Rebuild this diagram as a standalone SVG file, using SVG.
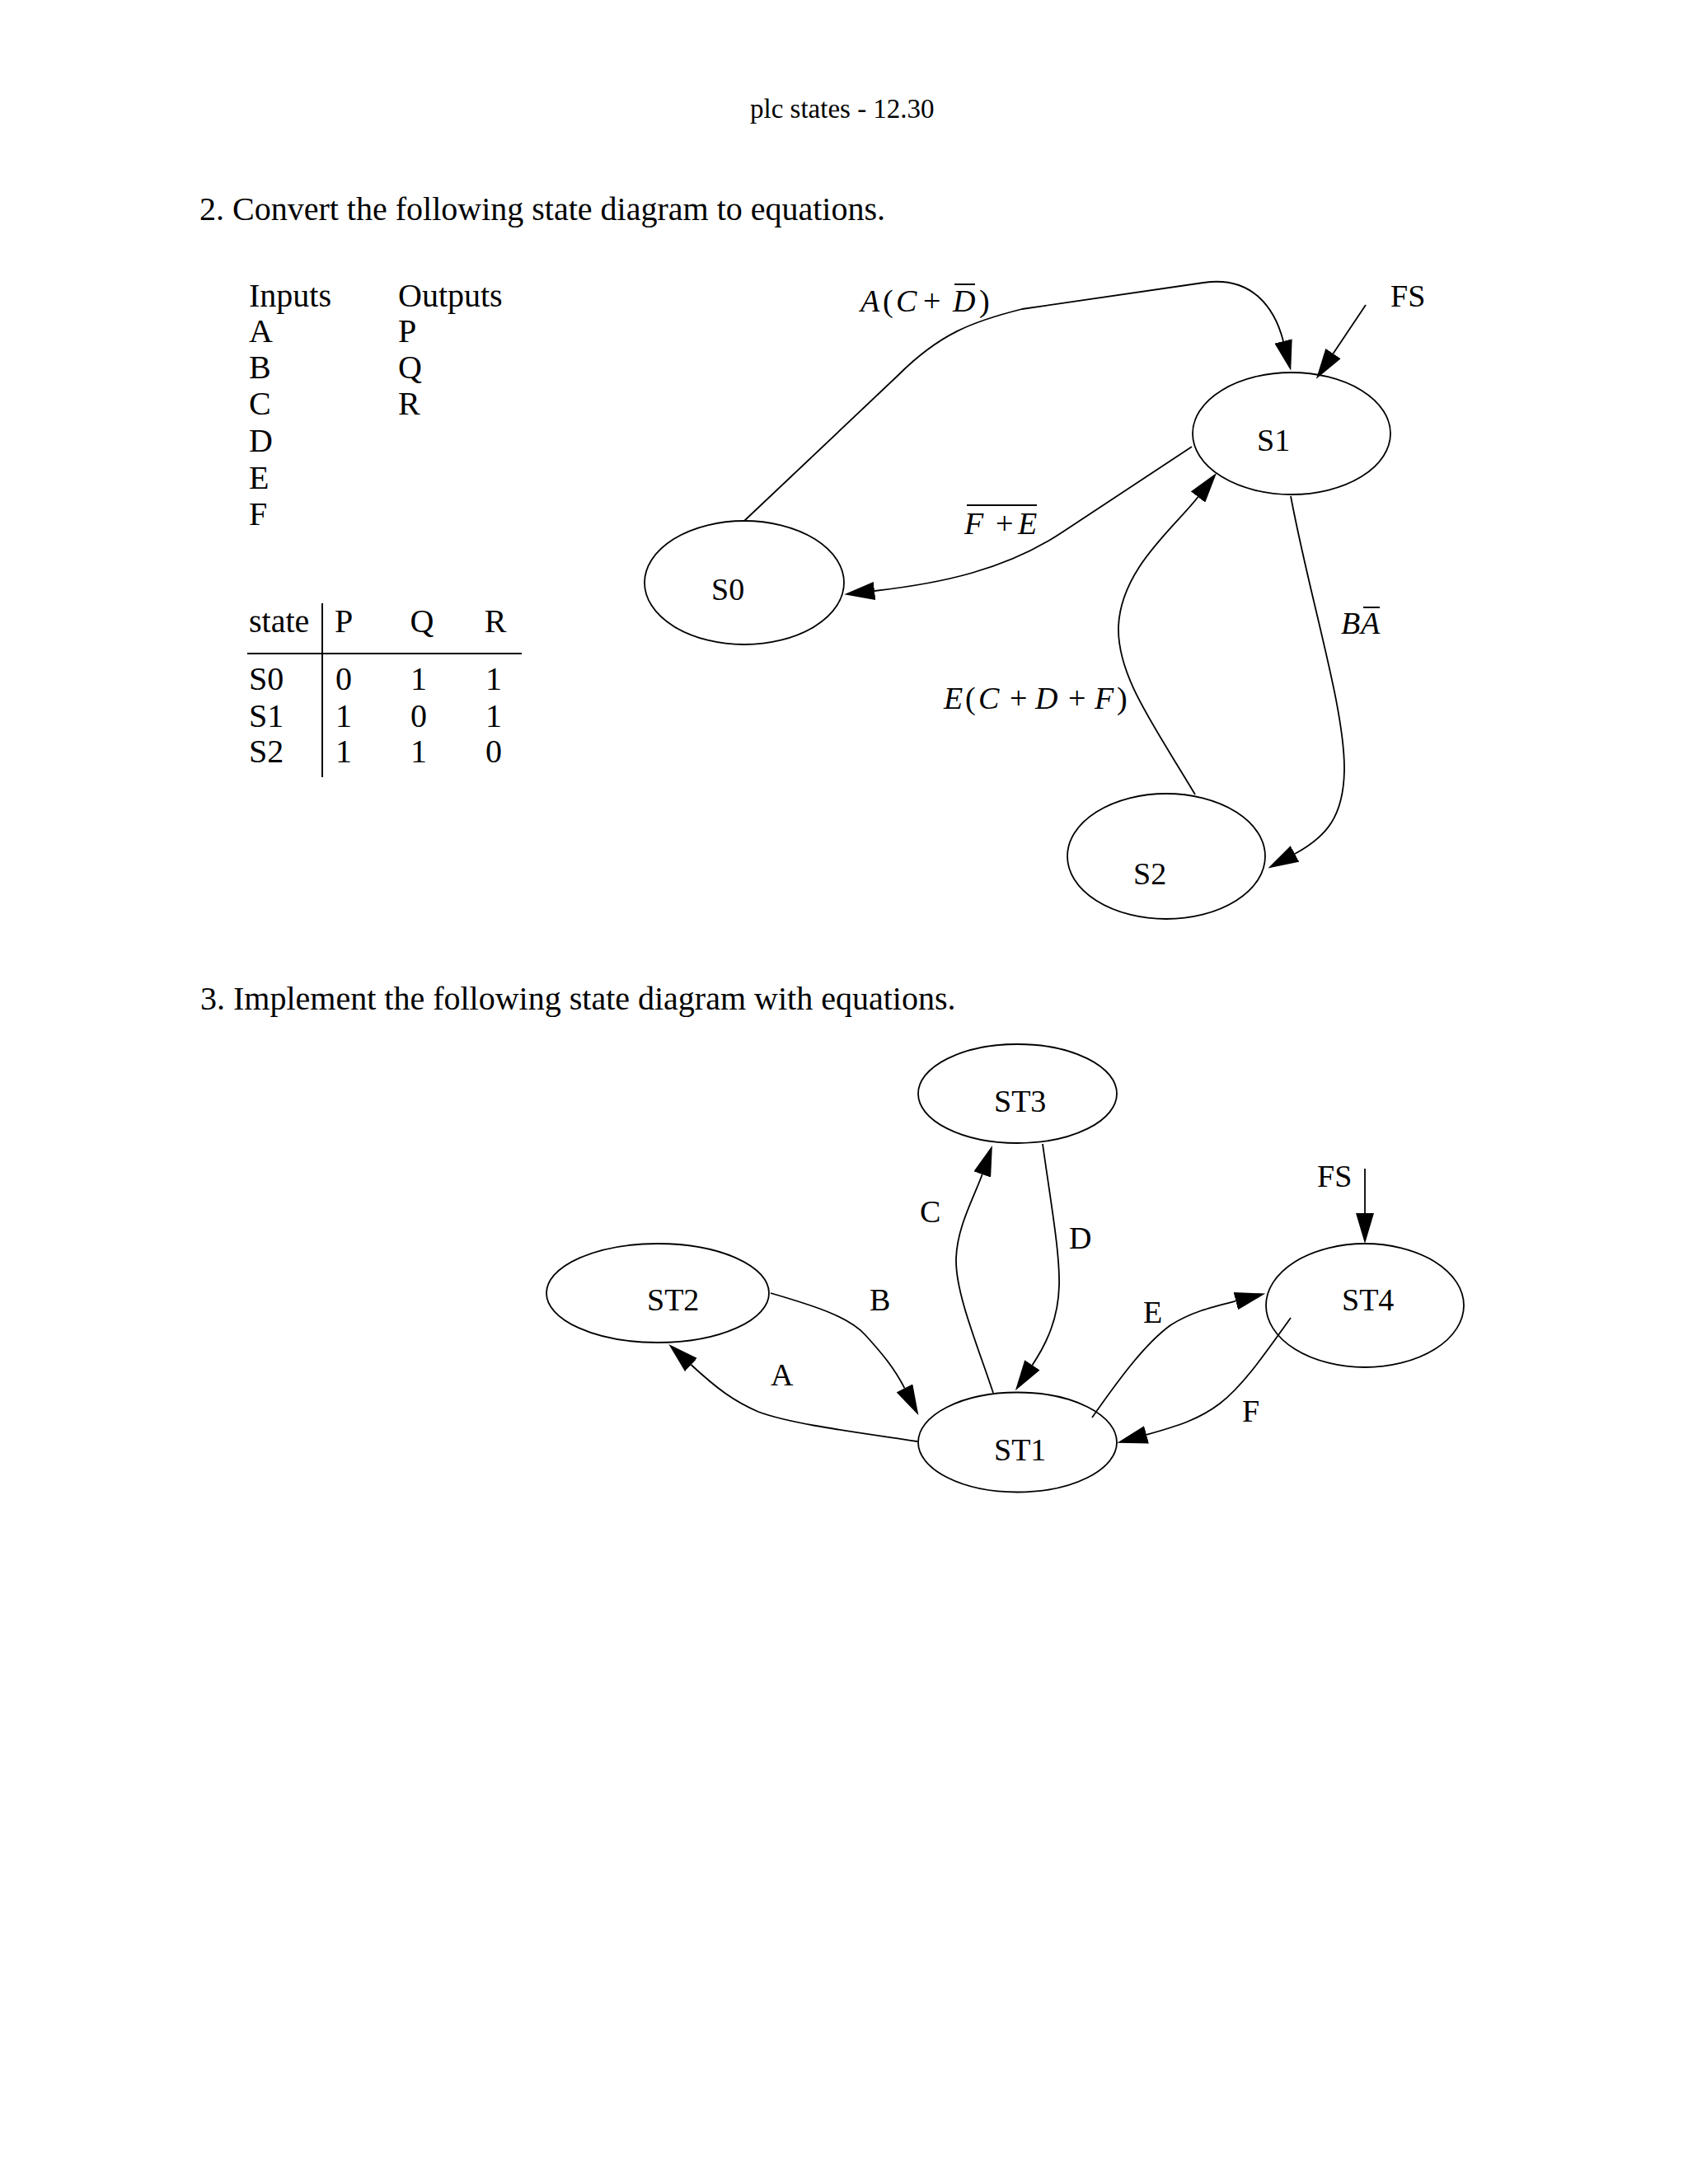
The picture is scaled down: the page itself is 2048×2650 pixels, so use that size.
<svg xmlns="http://www.w3.org/2000/svg" width="2048" height="2650" viewBox="0 0 2048 2650">
<style>
text{font-family:"Liberation Serif","Times New Roman",serif;fill:#000}
.t40{font-size:40px}
.t38{font-size:38px}
.it{font-style:italic}
.node{fill:none;stroke:#000;stroke-width:1.8}
.edge{fill:none;stroke:#000;stroke-width:1.8}
.rule{stroke:#000;stroke-width:2}
</style>
<defs>
<marker id="ah" viewBox="0 0 37 22" markerWidth="37" markerHeight="22" refX="0" refY="11" orient="auto" markerUnits="userSpaceOnUse"><path d="M0,0 L37,11 L0,22 z" fill="#000"/></marker>
</defs>
<rect width="2048" height="2650" fill="#fff"/>

<text x="910" y="143" style="font-size:33px">plc states - 12.30</text>
<text class="t40" x="242" y="267">2. Convert the following state diagram to equations.</text>

<g id="io-list" class="t40">
<text x="302" y="372">Inputs</text>
<text x="302" y="415">A</text>
<text x="302" y="459">B</text>
<text x="302" y="503">C</text>
<text x="302" y="548">D</text>
<text x="302" y="593">E</text>
<text x="302" y="637">F</text>
<text x="483" y="372">Outputs</text>
<text x="483" y="415">P</text>
<text x="483" y="459">Q</text>
<text x="483" y="503">R</text>
</g>

<g id="output-table" class="t40">
<line class="rule" x1="300" y1="793" x2="633" y2="793"/>
<line class="rule" x1="391" y1="732" x2="391" y2="943"/>
<text x="302" y="767">state</text>
<text x="417" y="767" text-anchor="middle">P</text>
<text x="512" y="767" text-anchor="middle">Q</text>
<text x="601" y="767" text-anchor="middle">R</text>
<text x="302" y="837">S0</text>
<text x="302" y="882">S1</text>
<text x="302" y="925">S2</text>
<g text-anchor="middle">
<text x="417" y="837">0</text><text x="508" y="837">1</text><text x="599" y="837">1</text>
<text x="417" y="882">1</text><text x="508" y="882">0</text><text x="599" y="882">1</text>
<text x="417" y="925">1</text><text x="508" y="925">1</text><text x="599" y="925">0</text>
</g>
</g>

<g id="edges-1">
<path class="edge" marker-end="url(#ah)" d="M903,632 L1090,455 C1140,405 1180,390 1240,375 L1460,343 C1520,334 1547,375 1557,414"/>
<line class="edge" marker-end="url(#ah)" x1="1657" y1="370" x2="1617.5" y2="429"/>
<path class="edge" marker-end="url(#ah)" d="M1446,542 L1290,645 C1220,692 1140,708 1061,717"/>
<path class="edge" marker-end="url(#ah)" d="M1566,602 C1590,730 1632,860 1631,935 C1630,990 1610,1015 1571,1036"/>
<path class="edge" marker-end="url(#ah)" d="M1450,964 C1400,880 1355,820 1357,760 C1360,690 1425,640 1453.5,603"/>
</g>

<g id="edge-labels-1" class="t38">
<text y="378"><tspan x="1044" class="it">A</tspan><tspan x="1071">(</tspan><tspan x="1087" class="it">C</tspan><tspan x="1120">+</tspan><tspan x="1156" class="it">D</tspan><tspan x="1188">)</tspan></text>
<line class="rule" x1="1158" y1="345" x2="1183" y2="345"/>
<text y="648"><tspan x="1170" class="it">F</tspan><tspan x="1208">+</tspan><tspan x="1235" class="it">E</tspan></text>
<line class="rule" x1="1173" y1="613" x2="1258" y2="613"/>
<text y="769"><tspan x="1627" class="it">B</tspan><tspan x="1651" class="it">A</tspan></text>
<line class="rule" x1="1654" y1="737" x2="1674" y2="737"/>
<text y="860"><tspan x="1145" class="it">E</tspan><tspan x="1171">(</tspan><tspan x="1187" class="it">C</tspan><tspan x="1225">+</tspan><tspan x="1256" class="it">D</tspan><tspan x="1296">+</tspan><tspan x="1328" class="it">F</tspan><tspan x="1355">)</tspan></text>
<text x="1687" y="372">FS</text>
</g>

<g id="S0"><ellipse class="node" cx="903" cy="707" rx="121" ry="75"/><text class="t38" x="863" y="728">S0</text></g>
<g id="S1"><ellipse class="node" cx="1567" cy="526" rx="120" ry="74"/><text class="t38" x="1525" y="547">S1</text></g>
<g id="S2"><ellipse class="node" cx="1415" cy="1039" rx="120" ry="76"/><text class="t38" x="1375" y="1073">S2</text></g>

<text class="t40" x="243" y="1225">3. Implement the following state diagram with equations.</text>

<g id="edges-2">
<path class="edge" marker-end="url(#ah)" d="M1205,1690 C1185,1630 1160,1570 1160,1530 C1160,1490 1183,1450 1191.7,1425"/>
<path class="edge" marker-end="url(#ah)" d="M1265,1388 C1275,1460 1286,1520 1285,1560 C1284,1600 1270,1630 1252.4,1656.4"/>
<path class="edge" marker-end="url(#ah)" d="M935,1569 C990,1585 1030,1598 1050,1620 C1070,1642 1085,1660 1097.5,1684.4"/>
<path class="edge" marker-end="url(#ah)" d="M1113,1749 C1040,1738 960,1728 920,1713 C890,1700 870,1685 838.5,1656"/>
<path class="edge" marker-end="url(#ah)" d="M1325,1720 C1360,1670 1390,1630 1420,1608 C1445,1592 1470,1586 1499.3,1578.6"/>
<path class="edge" marker-end="url(#ah)" d="M1566,1599 C1540,1635 1510,1680 1480,1703 C1455,1722 1430,1730 1391,1740.8"/>
<line class="edge" marker-end="url(#ah)" x1="1656" y1="1418" x2="1656" y2="1472"/>
</g>

<g id="edge-labels-2" class="t38">
<text x="1116" y="1483">C</text>
<text x="1297" y="1515">D</text>
<text x="1055" y="1590">B</text>
<text x="935" y="1681">A</text>
<text x="1387" y="1605">E</text>
<text x="1507" y="1725">F</text>
<text x="1598" y="1440">FS</text>
</g>

<g id="ST3"><ellipse class="node" cx="1234.5" cy="1327" rx="120.5" ry="60"/><text class="t38" x="1206" y="1349">ST3</text></g>
<g id="ST2"><ellipse class="node" cx="798" cy="1569" rx="135" ry="60"/><text class="t38" x="785" y="1590">ST2</text></g>
<g id="ST1"><ellipse class="node" cx="1234.5" cy="1750" rx="120.5" ry="60.5"/><text class="t38" x="1206" y="1772">ST1</text></g>
<g id="ST4"><ellipse class="node" cx="1656" cy="1584" rx="120" ry="75"/><text class="t38" x="1628" y="1590">ST4</text></g>
</svg>
